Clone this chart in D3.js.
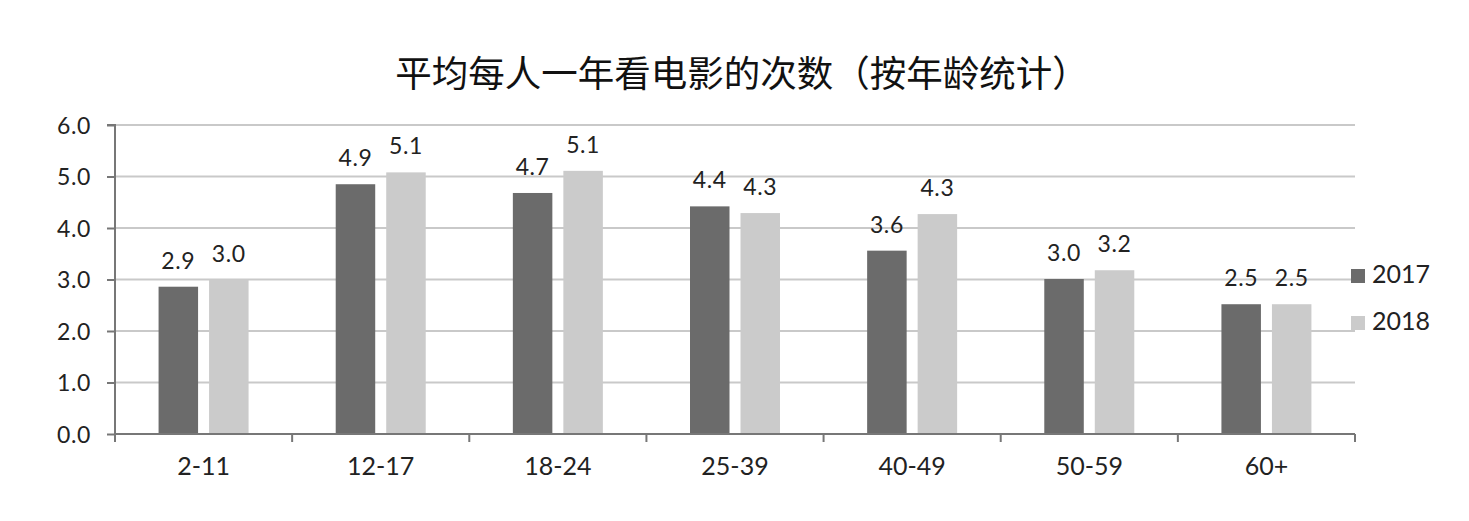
<!DOCTYPE html>
<html><head><meta charset="utf-8">
<script src="https://cdn.jsdelivr.net/npm/d3@7/dist/d3.min.js"></script>
<style>body{margin:0;background:#fff;}svg{display:block;}</style>
</head><body>
<svg id="chart" width="1469" height="521"></svg>
<script>
const categories = ["2-11","12-17","18-24","25-39","40-49","50-59","60+"];
const series2017 = [2.86, 4.85, 4.68, 4.42, 3.56, 3.01, 2.52];
const series2018 = [3.0, 5.08, 5.11, 4.29, 4.27, 3.18, 2.52];
const seriesNames = ["2017","2018"];
const yTicks = [0,1,2,3,4,5,6];
const chartTitle = "平均每人一年看电影的次数（按年龄统计）";
const colors = ["#6b6b6b","#cbcbcb"];

(function(){
const svg = d3.select("#chart");
const pl = 115, pr = 1355, pt = 125, pb = 434;
const x = d3.scaleBand().domain(categories).range([pl, pr]).paddingInner(0).paddingOuter(0);
const y = d3.scaleLinear().domain([0,6]).range([pb, pt]);
const barW = 39.5, gap = 11;

svg.append("text").attr("x", 742).attr("y", 87).attr("text-anchor","middle")
  .style("font-family","'Noto Sans CJK SC'").style("font-size","36.5px").style("fill","#111")
  .text(chartTitle);

// gridlines
svg.append("g").selectAll("line").data(yTicks.filter(d=>d>0)).join("line")
  .attr("x1", pl).attr("x2", pr).attr("y1", d=>y(d)).attr("y2", d=>y(d))
  .attr("stroke","#c9c9c9").attr("stroke-width",2);

// y axis
const yAxis = d3.axisLeft(y).tickValues(yTicks).tickFormat(d3.format(".1f")).tickSize(8).tickPadding(16);
const gy = svg.append("g").attr("transform",`translate(${pl},0)`).call(yAxis);
gy.select(".domain").attr("stroke","#777").attr("stroke-width",2).attr("d",`M-8,${pt}H0V${pb+8}`);
gy.selectAll(".tick line").attr("stroke","#777").attr("stroke-width",2);
gy.selectAll(".tick text").style("font-family","Lato").style("font-size","23px").style("letter-spacing","0.6px").style("fill","#222").attr("dy","0.36em");

// bars
const data = categories.map((c,i)=>({c, v:[series2017[i], series2018[i]]}));
const gb = svg.append("g");
data.forEach(d=>{
  const cx = x(d.c) + x.bandwidth()/2;
  d.v.forEach((v,j)=>{
    const bx = j===0 ? cx - gap/2 - barW : cx + gap/2;
    gb.append("rect").attr("x", bx).attr("y", y(v)).attr("width", barW).attr("height", y(0)-y(v)).attr("fill", colors[j]);
    gb.append("text").attr("x", bx + barW/2).attr("y", y(v) - 18).attr("text-anchor","middle")
      .style("font-family","Lato").style("font-size","23px").style("letter-spacing","0.6px").style("fill","#222")
      .text(d3.format(".1f")(Math.round(v*10)/10));
  });
});

// x axis
const boundaries = d3.range(categories.length+1).map(i=>pl + i*x.bandwidth());
const gx = svg.append("g");
gx.append("line").attr("x1",pl).attr("x2",pr).attr("y1",pb).attr("y2",pb).attr("stroke","#777").attr("stroke-width",2);
gx.selectAll("line.t").data(boundaries).join("line").attr("class","t")
  .attr("x1",d=>d).attr("x2",d=>d).attr("y1",pb).attr("y2",pb+8).attr("stroke","#777").attr("stroke-width",2);
gx.selectAll("text").data(categories).join("text")
  .attr("x", d=>x(d)+x.bandwidth()/2).attr("y", 475).attr("text-anchor","middle")
  .style("font-family","Lato").style("font-size","25px").style("fill","#222").text(d=>d);

// legend
const lg = svg.append("g");
seriesNames.forEach((n,i)=>{
  const yy = 269 + i*47;
  lg.append("rect").attr("x",1351).attr("y",yy).attr("width",14).attr("height",14).attr("fill",colors[i]);
  lg.append("text").attr("x",1372).attr("y",yy+14).style("font-family","Lato").style("font-size","25px").style("fill","#222").text(n);
});
})();
</script>
</body></html>
